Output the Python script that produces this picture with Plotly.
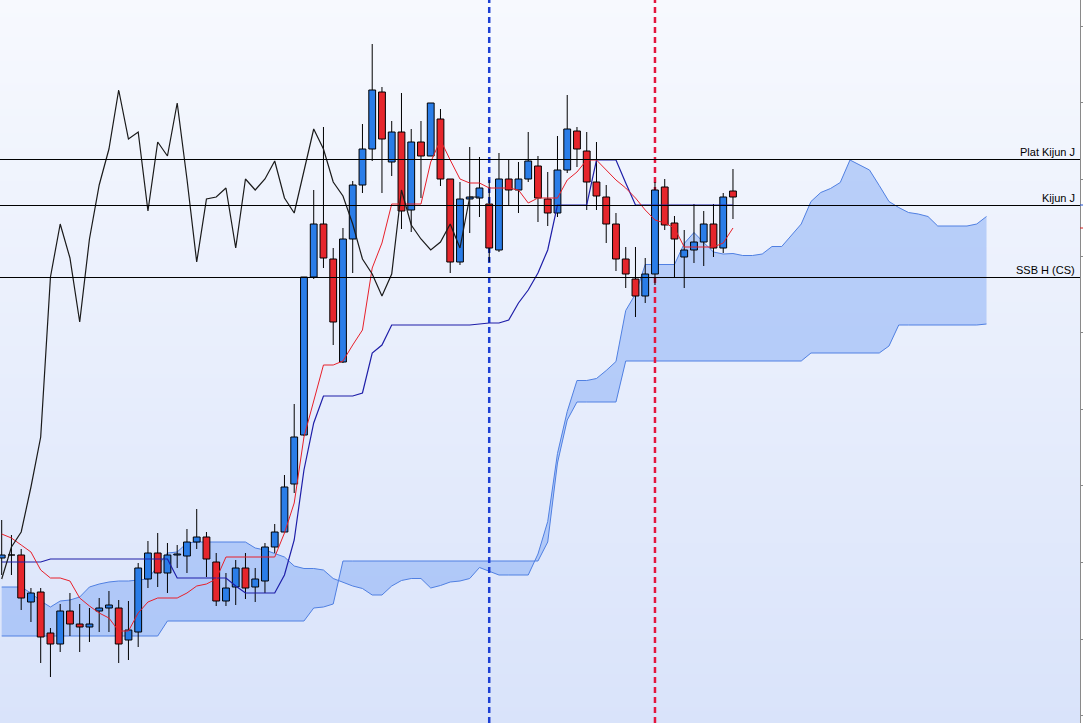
import plotly.graph_objects as go

# ---------------- data (price units) ----------------
idx = list(range(76))

open_ = [44.2, 44.5, 44.5, 39.8, 40.8, 36.7, 35.6, 38.9, 37.6, 37.3,
         38.9, 39.2, 39.2, 36.0, 36.8, 42.1, 44.7, 42.7, 44.5, 44.4,
         45.8, 46.3, 43.8, 39.9, 41.3, 43.2, 41.3, 41.9, 45.3, 46.8,
         51.6, 56.5, 72.3, 77.6, 74.1, 63.8, 76.1, 81.5, 85.1, 90.8,
         83.8, 86.8, 79.0, 85.8, 84.4, 88.1, 82.1, 73.8, 80.1, 80.2,
         79.6, 75.0, 82.1, 81.0, 82.1, 83.4, 80.1, 78.7, 83.0, 86.9,
         84.9, 81.8, 80.3, 77.6, 74.1, 72.1, 70.4, 72.6, 81.3, 77.7,
         74.3, 75.0, 75.8, 77.6, 75.2, 80.9]
high = [48.0, 46.5, 45.1, 41.2, 41.2, 37.2, 39.6, 40.7, 39.6, 39.2,
        40.2, 40.9, 40.0, 39.9, 43.7, 45.9, 46.7, 45.7, 45.5, 47.1,
        49.1, 46.8, 44.7, 42.7, 44.0, 44.7, 43.2, 45.7, 47.6, 52.5,
        59.6, 72.3, 81.0, 87.3, 75.2, 77.2, 81.9, 87.6, 95.6, 91.3,
        87.9, 90.7, 87.1, 87.9, 89.7, 89.1, 82.1, 81.8, 85.3, 84.3,
        82.0, 84.7, 84.1, 83.8, 86.8, 84.4, 82.8, 86.4, 90.5, 87.3,
        86.8, 85.8, 81.5, 78.7, 75.3, 75.3, 74.2, 81.8, 82.1, 78.4,
        77.0, 79.6, 78.9, 79.6, 80.7, 83.1]
low = [42.5, 42.5, 39.0, 37.8, 33.7, 32.3, 34.8, 36.4, 34.8, 35.8,
       36.8, 36.8, 33.7, 34.0, 35.3, 41.2, 41.3, 40.7, 43.2, 42.7,
       45.1, 42.3, 39.4, 39.4, 39.5, 40.1, 39.8, 40.7, 44.7, 46.7,
       50.7, 56.4, 72.1, 73.2, 65.5, 63.7, 72.7, 80.7, 83.9, 80.7,
       82.4, 77.1, 76.8, 80.2, 84.4, 81.4, 72.7, 73.5, 76.7, 78.3,
       73.8, 74.8, 79.5, 78.7, 81.8, 77.8, 77.4, 78.3, 82.7, 83.3,
       79.0, 79.0, 75.7, 72.9, 71.2, 68.3, 69.7, 71.5, 77.0, 72.3,
       71.2, 73.7, 73.4, 74.3, 74.7, 78.1]
close = [44.5, 44.5, 40.2, 40.7, 36.3, 35.6, 38.9, 37.6, 37.3, 37.6,
         39.2, 39.5, 35.6, 37.0, 43.2, 44.7, 42.7, 44.5, 44.6, 45.8,
         46.3, 44.1, 39.9, 41.2, 43.2, 41.2, 42.1, 45.3, 46.8, 51.3,
         56.3, 72.3, 77.6, 74.2, 67.8, 76.1, 81.5, 85.1, 91.0, 86.1,
         86.8, 78.9, 85.8, 84.4, 89.7, 82.1, 73.8, 80.1, 80.3, 81.2,
         75.2, 82.1, 81.0, 82.1, 83.9, 80.2, 78.7, 83.0, 87.1, 85.1,
         81.8, 80.4, 77.6, 74.1, 72.6, 70.4, 72.6, 81.0, 77.5, 76.1,
         75.0, 75.8, 77.6, 75.2, 80.3, 80.3]

tenkan = [46.6, 46.2, 45.5, 44.8, 43.0, 42.2, 42.2, 41.9, 40.2, 39.4,
          38.7, 38.2, 36.9, 36.9, 38.7, 39.8, 40.2, 40.2, 40.2, 40.7,
          41.4, 41.6, 42.1, 44.3, 44.3, 44.3, 44.3, 44.3, 44.3, 46.7,
          49.7, 56.3, 60.0, 63.5, 63.5, 63.9, 65.5, 67.0, 73.2, 75.7,
          79.6, 79.6, 79.6, 79.6, 83.8, 86.0, 84.0, 82.1, 81.7, 81.7,
          81.2, 81.2, 81.2, 81.0, 79.7, 80.2, 80.2, 80.2, 82.0, 82.8,
          84.0, 84.0, 83.0, 82.0, 81.2, 80.2, 79.0, 78.0, 77.7, 77.2,
          75.3, 75.3, 75.3, 75.3, 75.7, 77.2]
kijun = [43.8, 43.8, 43.8, 43.8, 43.8, 44.1, 44.1, 44.1, 44.1, 44.1,
         44.1, 44.1, 44.1, 44.1, 44.1, 44.1, 44.1, 44.1, 42.2, 42.2,
         42.2, 42.2, 42.2, 42.2, 41.4, 40.7, 40.7, 40.7, 40.7, 42.5,
         46.0, 53.0, 57.7, 60.4, 60.4, 60.4, 60.4, 60.7, 64.7, 65.5,
         67.5, 67.5, 67.5, 67.5, 67.5, 67.5, 67.5, 67.5, 67.5, 67.6,
         67.7, 67.7, 68.0, 69.7, 71.0, 72.7, 75.0, 79.5, 79.5, 79.5,
         79.5, 84.0, 84.0, 84.0, 81.7, 79.5, 79.5, 79.5, 79.5, 79.5,
         79.5, 79.5, 79.5, 79.5, 79.5, 79.5]

cloud_x = list(range(102))
senkou_a = [41.3, 41.3, 41.3, 40.7, 39.9, 39.3, 39.9, 40.0, 40.3, 41.3,
            41.6, 41.8, 41.9, 41.9, 42.0, 42.1, 43.4, 44.7, 44.8, 45.7,
            45.8, 45.8, 45.8, 45.8, 45.8, 45.8,
            45.2, 45.0, 44.65, 44.3, 43.4, 43.15, 43.15, 43.0, 42.15, 41.75,
            41.4, 41.15, 40.5, 40.5, 41.4, 41.95, 42.15, 42.15, 41.2, 41.45,
            41.8, 41.9, 42.15, 43.25, 42.85, 42.5, 42.5, 42.5, 42.5, 44.6,
            47.85, 54.65, 58.85, 61.95, 61.95, 62.15, 62.95, 63.85, 68.95, 70.6,
            73.55, 73.55, 73.55, 73.55, 75.65, 76.75, 75.75, 74.8, 74.6, 74.65,
            74.45, 74.45, 74.6, 75.35, 75.35, 76.45, 77.6, 79.85, 80.75, 81.15,
            81.75, 84.0, 83.5, 83.0, 81.45, 79.85, 79.25, 78.75, 78.6, 78.35,
            77.4, 77.4, 77.4, 77.4, 77.6, 78.35]
senkou_b = [36.4, 36.4, 36.4, 36.4, 36.4, 36.4, 36.4, 36.4, 36.4, 36.4,
            36.4, 36.4, 36.4, 36.4, 36.4, 36.4, 36.4, 37.9, 37.9, 37.9,
            37.9, 37.9, 37.9, 37.9, 37.9, 37.9, 37.9, 37.9, 37.9, 37.9,
            37.9, 37.9, 39.2, 39.3, 39.6, 43.9, 43.9, 43.9, 43.9, 43.9,
            43.9, 43.9, 43.9, 43.9, 43.9, 43.9, 43.9, 43.9, 43.9, 43.9,
            43.9, 43.9, 43.9, 43.9, 43.9, 43.9, 45.8, 53.7, 58.0, 59.8,
            59.8, 59.8, 59.8, 59.8, 63.9, 63.9, 63.9, 63.9, 63.9, 63.9,
            63.9, 63.9, 63.9, 63.9, 63.9, 63.9, 63.9, 63.9, 63.9, 63.9,
            63.9, 63.9, 63.9, 64.7, 64.7, 64.7, 64.7, 64.7, 64.7, 64.7,
            64.7, 65.4, 67.5, 67.5, 67.5, 67.5, 67.5, 67.5, 67.5, 67.5,
            67.5, 67.6]

# lagging span: closes drawn 26 periods back
chikou = close[26:]
chikou_x = idx[:len(chikou)]

levels = [84.05, 79.45, 72.25]
level_names = ["Plat Kijun J", "Kijun J", "SSB H (CS)"]
events = [50, 67]
event_colors = ["#1c3fd4", "#e3173e"]

X_RANGE = [-0.174, 110.59]
Y_RANGE = [27.7, 100.0]

# ---------------- styles ----------------
BLUE = "#2a7de8"
RED = "#e6262c"
CLOUD_LINE = "#5080e2"
CLOUD_FILL = "rgba(130,170,246,0.5)"
FONT = "Arial, Liberation Sans, sans-serif"
HALF = 0.35  # half body width in bar units

fig = go.Figure()

# background gradient
fig.add_trace(go.Heatmap(
    x=X_RANGE, y=Y_RANGE, z=[[0, 0], [1, 1]], zsmooth="best",
    colorscale=[[0, "#d9e3fa"], [1, "#f7f9fe"]], showscale=False,
    hoverinfo="skip"))

# cloud
fig.add_trace(go.Scatter(x=cloud_x, y=senkou_b, mode="lines",
                         line=dict(color=CLOUD_LINE, width=1), hoverinfo="skip"))
fig.add_trace(go.Scatter(x=cloud_x, y=senkou_a, mode="lines", fill="tonexty",
                         fillcolor=CLOUD_FILL,
                         line=dict(color=CLOUD_LINE, width=1), hoverinfo="skip"))

# vertical dashed event lines
for e, c in zip(events, event_colors):
    fig.add_trace(go.Scatter(x=[e, e], y=Y_RANGE, mode="lines",
                             line=dict(color=c, width=2.5, dash="6px,4px"),
                             hoverinfo="skip"))

# candles: wicks then bodies (built from the OHLC lists)
wx, wy = [], []
for i in idx:
    wx += [i, i, None]
    wy += [low[i], high[i], None]
fig.add_trace(go.Scatter(x=wx, y=wy, mode="lines",
                         line=dict(color="black", width=1), hoverinfo="skip"))

for up, col in [(True, BLUE), (False, RED)]:
    bx, by = [], []
    for i in idx:
        if (close[i] > open_[i]) != up:
            continue
        lo, hi = min(open_[i], close[i]), max(open_[i], close[i])
        bx += [i - HALF, i + HALF, i + HALF, i - HALF, i - HALF, None]
        by += [lo, lo, hi, hi, lo, None]
    fig.add_trace(go.Scatter(x=bx, y=by, mode="lines", fill="toself",
                             fillcolor=col, line=dict(color="black", width=1),
                             hoverinfo="skip"))

# indicator lines
fig.add_trace(go.Scatter(x=idx, y=kijun, mode="lines",
                         line=dict(color="#1e1ea8", width=1.2), hoverinfo="skip"))
fig.add_trace(go.Scatter(x=idx, y=tenkan, mode="lines",
                         line=dict(color="#e8202a", width=1), hoverinfo="skip"))
fig.add_trace(go.Scatter(x=chikou_x, y=chikou, mode="lines",
                         line=dict(color="#1a1a1a", width=1.2), hoverinfo="skip"))

# horizontal levels and labels
for lv, name in zip(levels, level_names):
    fig.add_shape(type="line", xref="paper", x0=0, x1=1, y0=lv, y1=lv,
                  line=dict(color="black", width=1), layer="above")
    fig.add_annotation(x=1, xref="paper", y=lv, yref="y", text=name,
                       showarrow=False, xanchor="right", yanchor="bottom",
                       xshift=-3, yshift=0,
                       font=dict(family=FONT, size=11, color="black"))

# last-value marks on the price axis
for val, col in [(kijun[-1], "#2050d0"), (tenkan[-1], "#d02020")]:
    fig.add_shape(type="line", xref="paper", x0=1.0, x1=1.003, y0=val, y1=val,
                  line=dict(color=col, width=1), layer="above")

fig.update_layout(
    width=1083, height=723,
    margin=dict(l=0, r=3, t=0, b=0, pad=0),
    paper_bgcolor="white", plot_bgcolor="#eef2fd",
    showlegend=False,
    xaxis=dict(range=X_RANGE, visible=False, fixedrange=True),
    yaxis=dict(range=Y_RANGE, side="right", showgrid=False, zeroline=False,
               showline=True, linecolor="#8a8a8a", linewidth=1,
               ticks="outside", ticklen=3, tickcolor="#8a8a8a",
               tick0=74.4, dtick=7.66, showticklabels=False,
               automargin=False, fixedrange=True),
)

fig.write_html("out.html", config={"displayModeBar": False},
               post_script="document.body.style.margin='0';")
